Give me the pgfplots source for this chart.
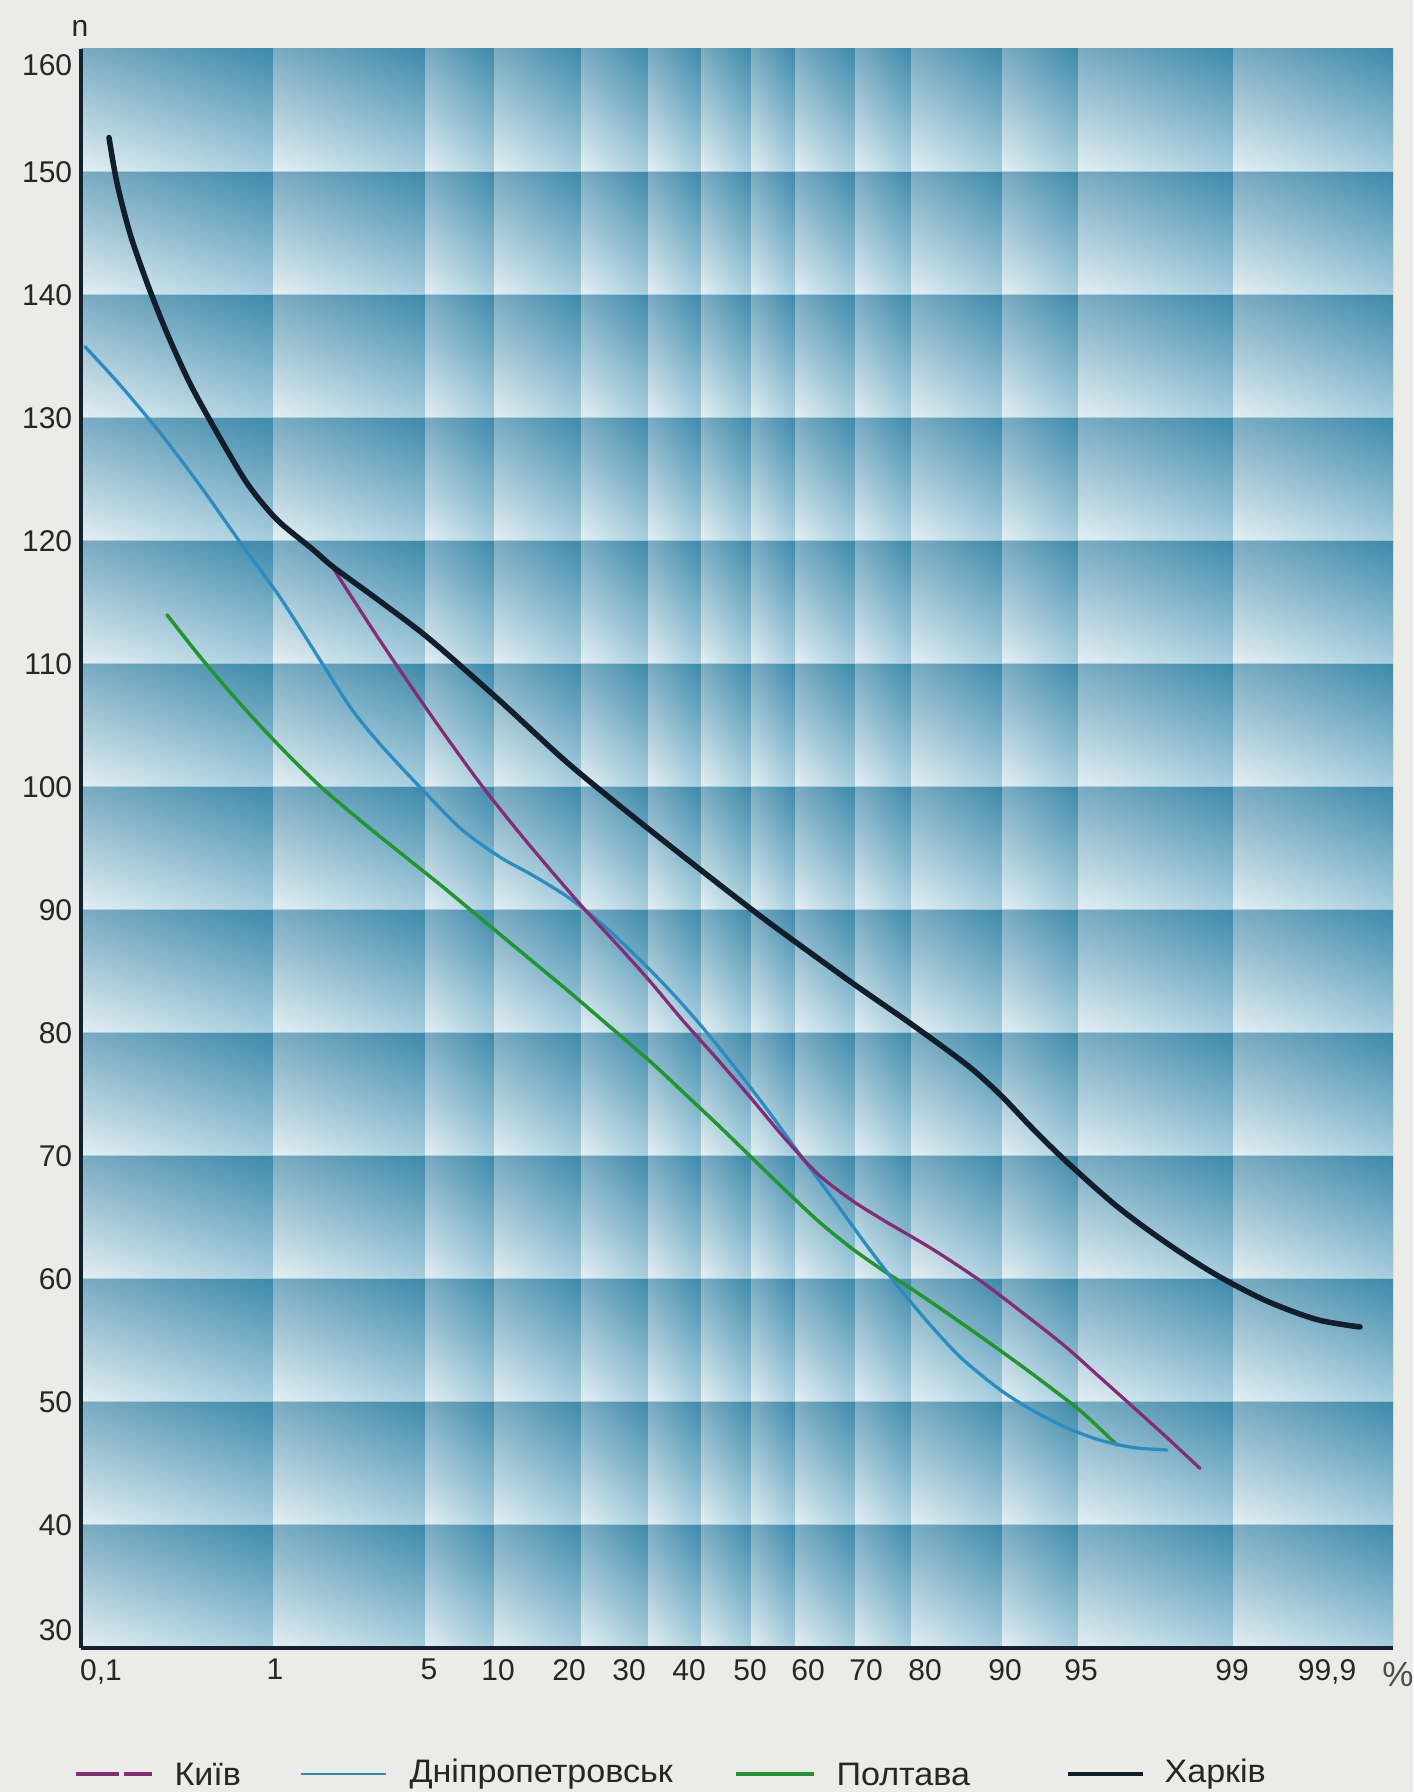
\documentclass[border=0pt]{standalone}
\usepackage{fontspec}
\setmainfont{Liberation Sans}
\newfontfamily\legfont[FakeStretch=1.05]{Liberation Sans}
\usepackage{pgfplots}
\pgfplotsset{compat=1.18}
\definecolor{paper}{HTML}{EBEBE7}
\definecolor{axisc}{HTML}{14222E}
\definecolor{colL}{HTML}{D8EAF0}
\definecolor{colD}{HTML}{5EA6C4}
\definecolor{rowD}{HTML}{1D6F94}
\definecolor{rowL}{HTML}{F0F5F7}
\definecolor{kharkivc}{HTML}{121E2C}
\definecolor{kyivc}{HTML}{862C74}
\definecolor{dniproc}{HTML}{2A8CC0}
\definecolor{poltavac}{HTML}{22962E}
\begin{document}
\begin{tikzpicture}
\path[use as bounding box, fill=paper] (-32.4pt,-57.6pt) rectangle (532.8pt,659.2pt);
\begin{axis}[
  at={(0pt,0pt)}, anchor=south west,
  scale only axis, width=524.8pt, height=639.6pt,
  xmin=0, xmax=1312, ymin=30, ymax=160,
  axis on top,
  axis x line*=bottom, axis y line*=left,
  axis line style={line width=1.6pt, color=axisc},
  major tick length=0pt,
  xtick={20,194,348,417,488,548,608,669,727,785,844,924,1000,1151,1246},
  xticklabels={{0,1},1,5,10,20,30,40,50,60,70,80,90,95,99,{99,9}},
  ytick={30,40,50,60,70,80,90,100,110,120,130,140,150,160},
  yticklabels={\raisebox{7pt}[\height][\depth]{30},40,50,60,70,80,90,100,110,120,130,140,150,\raisebox{-6.4pt}[\height][\depth]{160}},
  tick label style={font=\fontsize{12}{14}\selectfont, text=black!85},
  xticklabel style={yshift=-1pt},
]
% background: columns
\shade[left color=colL, right color=colD] (axis cs:0,30) rectangle (axis cs:192,160);
\shade[left color=colL, right color=colD] (axis cs:192,30) rectangle (axis cs:344,160);
\shade[left color=colL, right color=colD] (axis cs:344,30) rectangle (axis cs:413,160);
\shade[left color=colL, right color=colD] (axis cs:413,30) rectangle (axis cs:500,160);
\shade[left color=colL, right color=colD] (axis cs:500,30) rectangle (axis cs:567,160);
\shade[left color=colL, right color=colD] (axis cs:567,30) rectangle (axis cs:620,160);
\shade[left color=colL, right color=colD] (axis cs:620,30) rectangle (axis cs:670,160);
\shade[left color=colL, right color=colD] (axis cs:670,30) rectangle (axis cs:714,160);
\shade[left color=colL, right color=colD] (axis cs:714,30) rectangle (axis cs:774,160);
\shade[left color=colL, right color=colD] (axis cs:774,30) rectangle (axis cs:830,160);
\shade[left color=colL, right color=colD] (axis cs:830,30) rectangle (axis cs:921,160);
\shade[left color=colL, right color=colD] (axis cs:921,30) rectangle (axis cs:997,160);
\shade[left color=colL, right color=colD] (axis cs:997,30) rectangle (axis cs:1152,160);
\shade[left color=colL, right color=colD] (axis cs:1152,30) rectangle (axis cs:1312,160);
% background: rows
\shade[top color=rowD, bottom color=rowL, opacity=0.5] (axis cs:0,30) rectangle (axis cs:1312,40);
\shade[top color=rowD, bottom color=rowL, opacity=0.5] (axis cs:0,40) rectangle (axis cs:1312,50);
\shade[top color=rowD, bottom color=rowL, opacity=0.5] (axis cs:0,50) rectangle (axis cs:1312,60);
\shade[top color=rowD, bottom color=rowL, opacity=0.5] (axis cs:0,60) rectangle (axis cs:1312,70);
\shade[top color=rowD, bottom color=rowL, opacity=0.5] (axis cs:0,70) rectangle (axis cs:1312,80);
\shade[top color=rowD, bottom color=rowL, opacity=0.5] (axis cs:0,80) rectangle (axis cs:1312,90);
\shade[top color=rowD, bottom color=rowL, opacity=0.5] (axis cs:0,90) rectangle (axis cs:1312,100);
\shade[top color=rowD, bottom color=rowL, opacity=0.5] (axis cs:0,100) rectangle (axis cs:1312,110);
\shade[top color=rowD, bottom color=rowL, opacity=0.5] (axis cs:0,110) rectangle (axis cs:1312,120);
\shade[top color=rowD, bottom color=rowL, opacity=0.5] (axis cs:0,120) rectangle (axis cs:1312,130);
\shade[top color=rowD, bottom color=rowL, opacity=0.5] (axis cs:0,130) rectangle (axis cs:1312,140);
\shade[top color=rowD, bottom color=rowL, opacity=0.5] (axis cs:0,140) rectangle (axis cs:1312,150);
\shade[top color=rowD, bottom color=rowL, opacity=0.5] (axis cs:0,150) rectangle (axis cs:1312,160);

% Полтава
\addplot[poltavac, line width=1.4pt, smooth, line cap=round] coordinates {
(86,114.0) (120,110.5) (160,106.7) (200,103.2) (240,100.0) (282,97.1) (320,94.6)
(360,92.0) (400,89.3) (440,86.6) (486,83.5) (519,81.2) (569,77.7) (602,75.2)
(636,72.6) (669,70.0) (702,67.4) (736,64.8) (769,62.6) (802,60.7) (836,58.9)
(886,56.1) (936,53.2) (969,51.2) (1002,49.1) (1036,46.5)};
% Дніпропетровськ
\addplot[dniproc, line width=1.3pt, smooth, line cap=round] coordinates {
(4,135.8) (40,132.6) (80,128.7) (120,124.4) (160,119.8) (200,115.3) (240,110.2)
(270,106.4) (300,103.4) (340,99.9) (380,96.6) (419,94.3) (450,92.9) (486,91.1)
(519,89.0) (552,86.5) (586,83.7) (619,80.7) (652,77.4) (686,73.8) (720,70.0)
(752,66.5) (786,62.7) (820,59.1) (850,56.2) (880,53.6) (919,51.0) (952,49.3)
(986,47.9) (1019,46.9) (1052,46.3) (1086,46.1)};
% Київ
\addplot[kyivc, line width=1.3pt, smooth, line cap=round] coordinates {
(252,117.8) (299,111.9) (352,105.6) (399,100.3) (436,96.5) (469,93.3) (502,90.2)
(536,87.2) (569,84.2) (602,81.0) (636,77.9) (669,74.8) (702,71.6) (736,68.6)
(769,66.5) (802,64.8) (852,62.4) (902,59.7) (952,56.6) (986,54.4) (1019,52.0)
(1052,49.6) (1086,47.1) (1119,44.6)};
% Харків
\addplot[kharkivc, line width=2.2pt, smooth, line cap=round] coordinates {
(28,152.8) (36,149.1) (49,145.0) (66,141.0) (86,136.9) (109,132.8) (136,128.8)
(162,125.2) (179,123.3) (199,121.5) (232,119.3) (252,117.9) (299,115.1) (349,112.0)
(419,107.0) (486,102.0) (552,97.6) (619,93.3) (686,89.1) (769,84.2) (829,80.8)
(886,77.4) (919,75.0) (952,72.2) (986,69.5) (1036,65.9) (1086,62.9) (1136,60.3)
(1186,58.2) (1236,56.7) (1279,56.1)};
\end{axis}
% axis name and unit
\node[font=\fontsize{12}{14}\selectfont, text=black!85] at (-0.4pt,648pt) {n};
\node[font=\fontsize{14}{16}\selectfont, text=black!70] at (526.8pt,-10.4pt) {\%};
% legend
\draw[kyivc, line width=1.3pt, dash pattern=on 17pt off 2pt on 12pt off 2pt] (-2pt,-50.4pt) -- (28.4pt,-50.4pt);
\node[anchor=west, inner sep=0pt, font=\legfont\fontsize{13}{15}\selectfont, text=black!85] at (37.2pt,-50.4pt) {Київ};
\draw[dniproc, line width=1.1pt] (88pt,-50.4pt) -- (122pt,-50.4pt);
\node[anchor=west, inner sep=0pt, font=\legfont\fontsize{13}{15}\selectfont, text=black!85] at (131.2pt,-50.4pt) {Дніпропетровськ};
\draw[poltavac, line width=1.4pt] (262pt,-50.4pt) -- (293.2pt,-50.4pt);
\node[anchor=west, inner sep=0pt, font=\legfont\fontsize{13}{15}\selectfont, text=black!85] at (302pt,-50.4pt) {Полтава};
\draw[kharkivc, line width=1.8pt] (394.8pt,-50.4pt) -- (424.8pt,-50.4pt);
\node[anchor=west, inner sep=0pt, font=\legfont\fontsize{13}{15}\selectfont, text=black!85] at (433.2pt,-50.4pt) {Харків};
\end{tikzpicture}
\end{document}
